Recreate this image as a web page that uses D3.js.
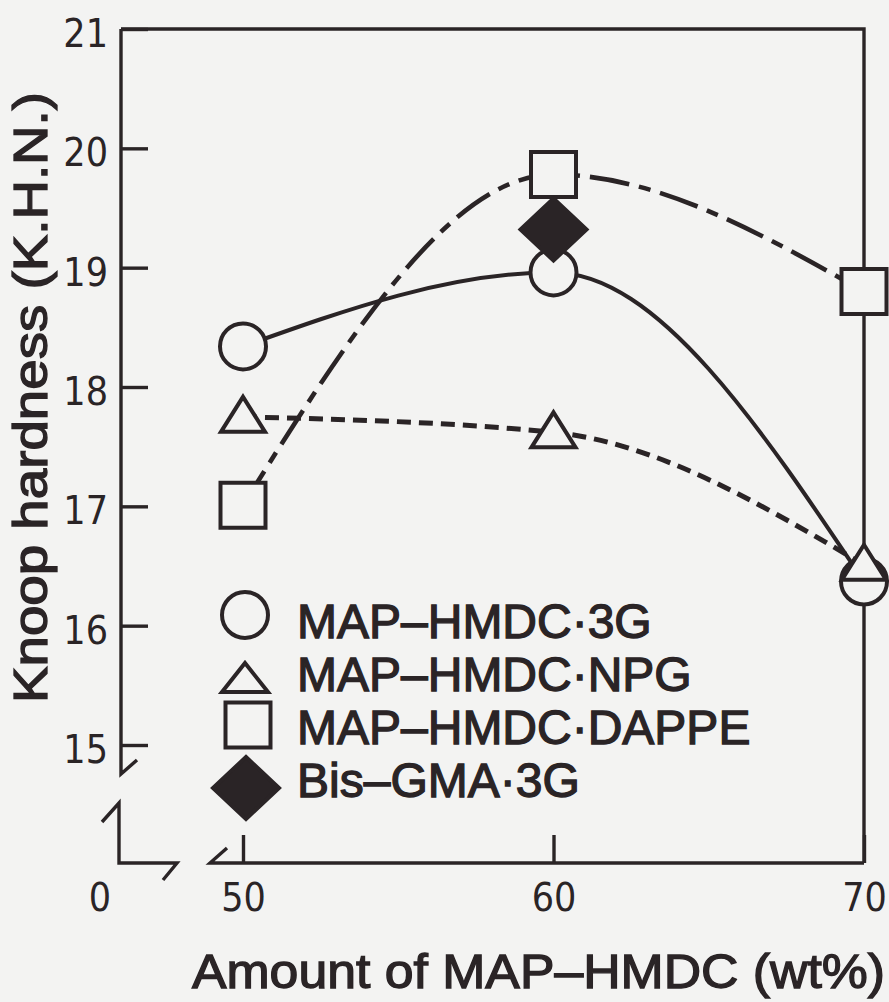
<!DOCTYPE html>
<html>
<head>
<meta charset="utf-8">
<script src="https://cdn.jsdelivr.net/npm/d3@7"></script>
<style>
  html, body { margin: 0; padding: 0; background: #f3f3f2; }
  svg { display: block; }
</style>
</head>
<body>
<svg id="chart" width="889" height="1002"></svg>
<script>
// Knoop hardness vs. MAP-HMDC content
const fillerAmounts = [50, 60, 70];
const hardness3G = [18.34, 18.96, 16.37];
const hardnessNPG = [17.75, 17.62, 16.51];
const hardnessDAPPE = [17.01, 19.78, 18.80];
const bisGmaAmounts = [60];
const hardnessBisGMA = [19.32];

const yTickValues = [15, 16, 17, 18, 19, 20, 21];
const xTickValues = [50, 60, 70];
const xBreakLabel = "0";

const legendLabels = ["MAP–HMDC·3G", "MAP–HMDC·NPG", "MAP–HMDC·DAPPE", "Bis–GMA·3G"];
const xTitle = "Amount of MAP–HMDC (wt%)";
const yTitle = "Knoop hardness  (K.H.N.)";

const INK = "#2a2426";
const BG = "#f3f3f2";
const TICK_FONT = "'Liberation Sans Narrow', 'DejaVu Sans Condensed', sans-serif";
const LABEL_FONT = "'Liberation Sans', Arial, sans-serif";

const svg = d3.select("#chart");

const x = d3.scaleLinear().domain([50, 70]).range([243, 864]);
const y = d3.scaleLinear().domain([15, 21]).range([745, 29]);

const leftX = 121;
const baseY = 863;

// ---- frame with broken axes ----
const frame = svg.append("g")
  .attr("fill", "none")
  .attr("stroke", INK)
  .attr("stroke-width", 3.4)
  .attr("stroke-linejoin", "miter")
  .attr("stroke-linecap", "butt");

frame.append("path").attr("d",
  `M${leftX},${y(21)} H${x(70)} V${baseY}`);
frame.append("path").attr("d",
  `M${leftX},${y(21)} V774 L137,760`);
frame.append("path").attr("d",
  `M102,822 L${leftX - 2},803 V${baseY} H177 L163,880`);
frame.append("path").attr("d",
  `M227,848 L210,${baseY} H${x(70)}`);

// ---- y axis ticks ----
const yAxis = svg.append("g")
  .attr("transform", `translate(${leftX},0)`)
  .call(d3.axisLeft(y).tickValues(yTickValues).tickSize(-27).tickPadding(13).tickFormat(d3.format("d")));
yAxis.select(".domain").remove();
yAxis.selectAll(".tick line").attr("stroke", INK).attr("stroke-width", 3.4);
yAxis.selectAll(".tick text")
  .attr("fill", INK)
  .attr("dy", "0.45em")
  .style("font-family", TICK_FONT)
  .style("font-size", "39px");

// ---- x axis ticks ----
const xAxis = svg.append("g")
  .attr("transform", `translate(0,${baseY})`)
  .call(d3.axisBottom(x).tickValues(xTickValues).tickSize(-28).tickPadding(20).tickFormat(d3.format("d")));
xAxis.select(".domain").remove();
xAxis.selectAll(".tick line").attr("stroke", INK).attr("stroke-width", 3.4);
xAxis.selectAll(".tick text")
  .attr("fill", INK)
  .style("font-family", TICK_FONT)
  .style("font-size", "39px");

svg.append("text")
  .attr("x", 100).attr("y", baseY + 20).attr("dy", "0.71em")
  .attr("text-anchor", "middle")
  .attr("fill", INK)
  .style("font-family", TICK_FONT)
  .style("font-size", "39px")
  .text(xBreakLabel);

// ---- curves ----
const curve = d3.line()
  .x(d => x(d[0]))
  .y(d => y(d[1]))
  .curve(d3.curveMonotoneX);

const series = [
  { values: hardness3G, dash: null, width: 4 },
  { values: hardnessNPG, dash: "14 8", width: 5 },
  { values: hardnessDAPPE, dash: "40 10 12 10", width: 4.6 }
];

svg.append("g").selectAll("path")
  .data(series)
  .join("path")
  .attr("d", s => curve(fillerAmounts.map((a, i) => [a, s.values[i]])))
  .attr("fill", "none")
  .attr("stroke", INK)
  .attr("stroke-width", s => s.width)
  .attr("stroke-dasharray", s => s.dash);

// ---- marker shapes ----
const shapes = {
  circle: () => d3.symbol(d3.symbolCircle, Math.PI * 23 * 23)(),
  triangle: () => "M0,-20 L22,15 L-22,15 Z",
  legendTriangle: () => "M0,-15 L23,14 L-23,14 Z",
  square: () => "M-22.5,-22.5 H22.5 V22.5 H-22.5 Z",
  diamond: () => "M0,-31 L33,0 L0,31 L-33,0 Z"
};

function drawMarkers(amounts, values, shape, filled) {
  svg.append("g").selectAll("path")
    .data(amounts.map((a, i) => [a, values[i]]))
    .join("path")
    .attr("transform", d => `translate(${x(d[0])},${y(d[1])})`)
    .attr("d", shapes[shape]())
    .attr("fill", filled ? INK : BG)
    .attr("stroke", INK)
    .attr("stroke-width", 4)
    .attr("stroke-linejoin", "miter");
}

drawMarkers(fillerAmounts, hardness3G, "circle", false);
drawMarkers(fillerAmounts, hardnessNPG, "triangle", false);
drawMarkers(fillerAmounts, hardnessDAPPE, "square", false);
drawMarkers(bisGmaAmounts, hardnessBisGMA, "diamond", true);

// ---- legend ----
const legendItems = [
  { shape: "circle", filled: false, cx: 245, cy: 615 },
  { shape: "legendTriangle", filled: false, cx: 245, cy: 678 },
  { shape: "square", filled: false, cx: 248, cy: 725 },
  { shape: "diamond", filled: true, cx: 246, cy: 788 }
];
const legendBaselines = [638, 691, 744, 797];

const legend = svg.append("g");
legend.selectAll("path")
  .data(legendItems)
  .join("path")
  .attr("transform", d => `translate(${d.cx},${d.cy})`)
  .attr("d", d => shapes[d.shape]())
  .attr("fill", d => d.filled ? INK : BG)
  .attr("stroke", INK)
  .attr("stroke-width", 4);

// heavier strokes on the label text
function boldish(sel) {
  sel.attr("fill", INK)
    .attr("stroke", INK)
    .attr("stroke-width", 1.3)
    .style("paint-order", "stroke")
    .style("font-family", LABEL_FONT)
    .style("font-size", "48px");
}

legend.selectAll("text")
  .data(legendLabels)
  .join("text")
  .attr("x", 297)
  .attr("y", (d, i) => legendBaselines[i])
  .call(boldish)
  .text(d => d);

// ---- axis titles ----
svg.append("text")
  .attr("x", 192).attr("y", 988)
  .attr("textLength", 693)
  .attr("lengthAdjust", "spacingAndGlyphs")
  .call(boldish)
  .text(xTitle);

svg.append("text")
  .attr("transform", "translate(47,703) rotate(-90)")
  .attr("x", 0).attr("y", 0)
  .attr("textLength", 611)
  .attr("lengthAdjust", "spacingAndGlyphs")
  .call(boldish)
  .text(yTitle);
</script>
</body>
</html>
